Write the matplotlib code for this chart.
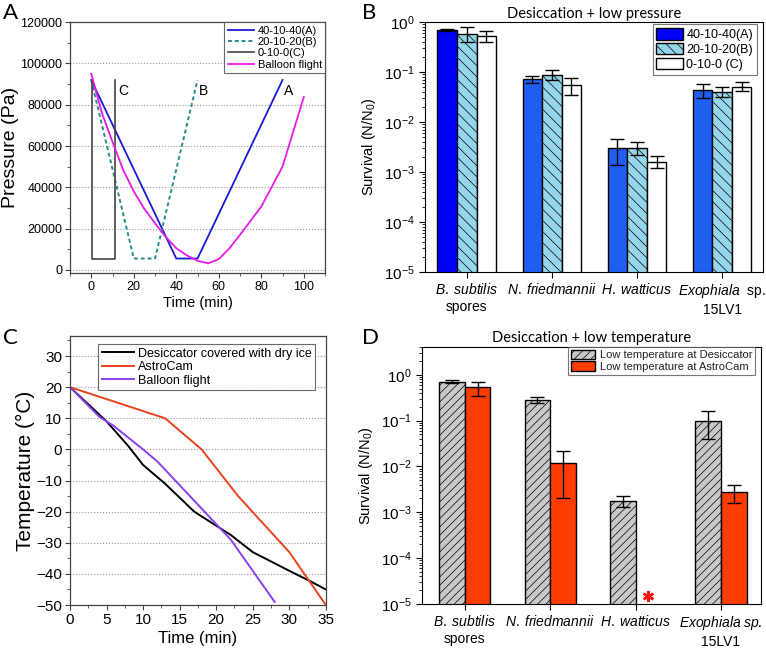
import numpy as np
import matplotlib
matplotlib.use("Agg")
import matplotlib.pyplot as plt
from matplotlib.ticker import MultipleLocator, LogLocator, NullFormatter

plt.rcParams['font.family'] = ['Liberation Sans', 'DejaVu Sans']
plt.rcParams['mathtext.fontset'] = 'custom'
plt.rcParams['mathtext.rm'] = 'Liberation Sans'
plt.rcParams['mathtext.it'] = 'Liberation Sans:italic'
plt.rcParams['hatch.linewidth'] = 0.5

# ---- panel A data: pressure profiles (min, Pa)
a_time = [0, 40, 50, 90]
a_press = [92000, 5500, 5500, 92000]
b_time = [0, 20, 30, 50]
b_press = [92000, 5500, 5500, 92000]
c_time = [0.5, 0.5, 11, 11]
c_press = [92000, 5500, 5500, 92000]
balloon_time = [0, 5, 10, 15, 20, 25, 30, 35, 40, 45, 50, 55, 60, 65, 70, 80, 90, 100]
balloon_press = [95000, 76000, 62000, 48500, 38000, 29500, 22600, 16000, 10500, 7000, 4400,
                 3200, 5200, 10500, 17000, 30700, 50100, 83800]

# ---- panel C data: temperature profiles (min, degC)
desic_time = [0, 2.5, 5, 8, 10, 13, 17, 20, 22, 25, 30, 33, 35]
desic_temp = [20, 14.5, 9, 1, -5, -11, -20, -24.5, -27.5, -33, -39, -42.5, -45]
astro_time = [0, 13, 18, 23, 30, 35]
astro_temp = [20, 10, 0, -15, -33, -50]
flight_time = [0, 4, 6, 10, 12, 15, 18, 22, 28]
flight_temp = [20, 10.5, 7.5, 0, -4, -11.5, -19, -29, -49]

# ---- survival data
organisms_b = [r'$\it{B.\;subtilis}$' + '\nspores', r'$\it{N.\;friedmannii}$',
               r'$\it{H.\;watticus}$', r'$\it{Exophiala}$  sp.' + '\n15LV1']
organisms_d = [r'$\it{B.\;subtilis}$' + '\nspores', r'$\it{N.\;friedmannii}$',
               r'$\it{H.\;watticus}$', r'$\it{Exophiala\;sp.}$' + '\n15LV1']

surv_a = [0.70, 0.072, 0.0030, 0.043]
surv_a_lo = [0.66, 0.060, 0.0014, 0.030]
surv_a_hi = [0.74, 0.085, 0.0045, 0.057]
surv_b = [0.58, 0.088, 0.0030, 0.040]
surv_b_lo = [0.40, 0.070, 0.0022, 0.032]
surv_b_hi = [0.80, 0.110, 0.0040, 0.050]
surv_c = [0.53, 0.054, 0.0016, 0.051]
surv_c_lo = [0.40, 0.035, 0.0012, 0.042]
surv_c_hi = [0.68, 0.075, 0.0021, 0.062]

surv_desic = [0.70, 0.28, 0.0018, 0.10]
surv_desic_lo = [0.66, 0.24, 0.0013, 0.04]
surv_desic_hi = [0.75, 0.33, 0.0023, 0.16]
surv_astro = [0.53, 0.012, np.nan, 0.0028]
surv_astro_lo = [0.35, 0.002, np.nan, 0.0016]
surv_astro_hi = [0.70, 0.022, np.nan, 0.0040]
astro_missing_y = 1.5e-5

fig = plt.figure(figsize=(7.66, 6.52), dpi=100)

def style_lin(ax, size):
    for s in ax.spines.values():
        s.set_color('#444444')
        s.set_linewidth(0.9)
    ax.tick_params(which='both', direction='out', labelsize=size, color='#444444', pad=2)
    ax.tick_params(which='major', length=3.5)
    ax.tick_params(which='minor', length=2)
    ax.yaxis.grid(True, which='major', linestyle=':', color='#999999', linewidth=0.8)
    ax.set_axisbelow(True)

# ================= A
axA = fig.add_axes([0.0914, 0.581, 0.333, 0.385])
axA.plot(a_time, a_press, color='#1a1ad6', lw=1.3, label='40-10-40(A)')
axA.plot(b_time, b_press, color='#2a8a8a', lw=1.4, ls=(0, (2, 1.5)), label='20-10-20(B)')
axA.plot(c_time, c_press, color='#444444', lw=1.2, label='0-10-0(C)')
axA.plot(balloon_time, balloon_press, color='#e81ae8', lw=1.3, label='Balloon flight')
axA.text(15, 86500, 'C', fontsize=10, ha='center', va='center')
axA.text(53, 86500, 'B', fontsize=10, ha='center', va='center')
axA.text(93, 86500, 'A', fontsize=10, ha='center', va='center')
axA.set_xlim(-10, 110)
axA.set_ylim(-1600, 120000)
axA.xaxis.set_major_locator(MultipleLocator(20))
axA.xaxis.set_minor_locator(MultipleLocator(10))
axA.yaxis.set_major_locator(MultipleLocator(20000))
axA.yaxis.set_minor_locator(MultipleLocator(10000))
style_lin(axA, 9)
axA.set_xlabel('Time (min)', fontsize=10.5, labelpad=2)
axA.set_ylabel('Pressure (Pa)', fontsize=14, labelpad=1)
legA = axA.legend(loc='upper right', borderaxespad=0, fontsize=8, handlelength=2.4,
                  labelspacing=0.12, fancybox=False, edgecolor='#444444', borderpad=0.3,
                  handletextpad=0.3)
legA.get_frame().set_linewidth(0.8)

# ================= B
axB = fig.add_axes([0.555, 0.583, 0.441, 0.383])
x = np.arange(1, 5)
w = 0.23
col_a = ['#0000ff', '#1f5ff0', '#1f5ff0', '#1f5ff0']
err_kw = dict(ecolor='black', elinewidth=1, capsize=5, capthick=1)
def yerr(v, lo, hi):
    v = np.array(v); return [v - np.array(lo), np.array(hi) - v]
axB.bar(x - w, surv_a, w, color=col_a, edgecolor='black', lw=1,
        yerr=yerr(surv_a, surv_a_lo, surv_a_hi), error_kw=err_kw, label='40-10-40(A)')
axB.bar(x, surv_b, w, color='#96d6ec', edgecolor='black', lw=1, hatch='\\\\\\',
        yerr=yerr(surv_b, surv_b_lo, surv_b_hi), error_kw=err_kw, label='20-10-20(B)')
axB.bar(x + w, surv_c, w, color='white', edgecolor='black', lw=1,
        yerr=yerr(surv_c, surv_c_lo, surv_c_hi), error_kw=err_kw, label='0-10-0 (C)')
axB.set_yscale('log')
axB.set_ylim(1e-5, 1)
axB.set_xlim(0.51, 4.48)
axB.set_xticks(x)
axB.set_xticklabels(organisms_b, fontsize=10)
axB.yaxis.set_major_locator(LogLocator(base=10, numticks=10))
axB.yaxis.set_minor_locator(LogLocator(base=10, subs=np.arange(2, 10), numticks=10))
axB.yaxis.set_minor_formatter(NullFormatter())
axB.tick_params(which='both', direction='out', color='black')
axB.tick_params(axis='y', labelsize=11)
axB.tick_params(which='major', length=4)
axB.tick_params(which='minor', length=2.5)
axB.set_ylabel('Survival (N/N$_0$)', fontsize=10.5, labelpad=4)
axB.set_title('Desiccation + low pressure', fontsize=10.5, family='Lato', pad=3)
legB = axB.legend(loc='upper right', bbox_to_anchor=(0.982, 0.992), borderaxespad=0,
                  fontsize=9, handlelength=2.1, handleheight=1.05, labelspacing=0.15,
                  fancybox=False, edgecolor='#555555', borderpad=0.3, handletextpad=0.3)
legB.get_frame().set_linewidth(0.8)

# ================= C
axC = fig.add_axes([0.0914, 0.072, 0.334, 0.413])
axC.plot(desic_time, desic_temp, color='black', lw=1.4, label='Desiccator covered with dry ice')
axC.plot(astro_time, astro_temp, color='#e8431c', lw=1.4, label='AstroCam')
axC.plot(flight_time, flight_temp, color='#8a3ff0', lw=1.4, label='Balloon flight')
axC.set_xlim(0, 35)
axC.set_ylim(-50, 36.5)
axC.xaxis.set_major_locator(MultipleLocator(5))
axC.xaxis.set_minor_locator(MultipleLocator(2.5))
axC.yaxis.set_major_locator(MultipleLocator(10))
axC.yaxis.set_minor_locator(MultipleLocator(5))
style_lin(axC, 11)
axC.set_xlabel('Time (min)', fontsize=12, labelpad=3)
axC.set_ylabel('Temperature (°C)', fontsize=15, labelpad=1)
legC = axC.legend(loc='upper left', bbox_to_anchor=(0.109, 0.97), borderaxespad=0,
                  fontsize=9, handlelength=2.6, labelspacing=0.12, fancybox=False,
                  edgecolor='#444444', borderpad=0.3, handletextpad=0.3)
legC.get_frame().set_linewidth(0.8)

# ================= D
axD = fig.add_axes([0.551, 0.0736, 0.4426, 0.394])
wd = 0.3
axD.bar(x - wd / 2, surv_desic, wd, color='#c8c8c8', edgecolor='black', lw=1, hatch='////',
        yerr=yerr(surv_desic, surv_desic_lo, surv_desic_hi), error_kw=err_kw,
        label='Low temperature at Desiccator')
axD.bar(x + wd / 2, surv_astro, wd, color='#ff3d00', edgecolor='black', lw=1,
        yerr=yerr(surv_astro, surv_astro_lo, surv_astro_hi), error_kw=err_kw,
        label='Low temperature at AstroCam')
missing = np.isnan(surv_astro)
axD.plot(x[missing] + wd / 2, [astro_missing_y] * missing.sum(), ls='none',
         marker=(6, 2, 0), ms=8, mew=1.8, color='#ff1010')
axD.set_yscale('log')
axD.set_ylim(1e-5, 4)
axD.set_xlim(0.5, 4.47)
axD.set_xticks(x)
axD.set_xticklabels(organisms_d, fontsize=10)
axD.yaxis.set_major_locator(LogLocator(base=10, numticks=10))
axD.yaxis.set_minor_locator(LogLocator(base=10, subs=np.arange(2, 10), numticks=10))
axD.yaxis.set_minor_formatter(NullFormatter())
axD.tick_params(which='both', direction='out', color='black')
axD.tick_params(axis='y', labelsize=11)
axD.tick_params(which='major', length=4)
axD.tick_params(which='minor', length=2.5)
axD.set_ylabel('Survival (N/N$_0$)', fontsize=10.5, labelpad=4)
axD.set_title('Desiccation + low temperature', fontsize=10.5, family='Lato', pad=4)
legD = axD.legend(loc='upper right', bbox_to_anchor=(0.982, 1.0), borderaxespad=0,
                  fontsize=8, handlelength=2.2, handleheight=0.9, labelspacing=0.1,
                  fancybox=False, edgecolor='#555555', borderpad=0.25, handletextpad=0.4)
legD.get_frame().set_linewidth(0.8)
for t in legD.get_texts():
    t.set_color('#222222')

# panel letters
for lab, px, py in [('A', 0.004, 0.995), ('B', 0.472, 0.995), ('C', 0.004, 0.497), ('D', 0.472, 0.497)]:
    fig.text(px, py, lab, fontsize=16, family='Lato', ha='left', va='top')

fig.savefig('out.png', dpi=100)
